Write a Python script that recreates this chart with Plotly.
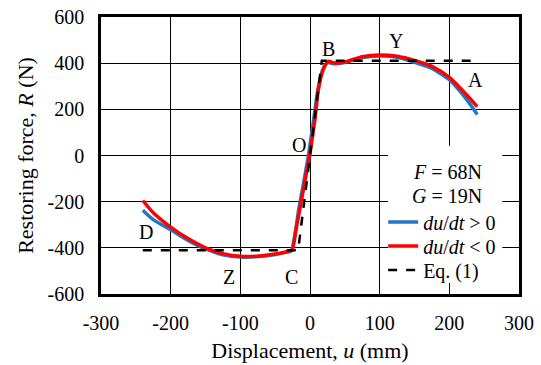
import plotly.graph_objects as go

# ---- data ----
u_blue = [-240, -225, -200, -175, -150, -125, -100, -75, -50, -35, -27, -21, -16, -9, -2, 5, 11, 18, 25, 35, 50, 75, 100, 125, 150, 175, 200, 225, 240]
r_blue = [-237, -278, -322, -368, -405, -430, -440, -438, -429, -419, -413, -330, -230, -115, 5, 150, 280, 370, 402, 397, 403, 424, 431, 426, 404, 377, 328, 242, 178]

u_red = [-240, -225, -200, -175, -150, -125, -100, -75, -50, -35, -26, -20, -14, -7, 0, 7, 12, 19, 26, 35, 50, 75, 100, 125, 150, 175, 200, 225, 240]
r_red = [-195, -248, -310, -360, -400, -425, -437, -436, -427, -418, -411, -320, -222, -107, 10, 154, 285, 372, 408, 401, 405, 428, 435, 430, 412, 386, 338, 262, 212]

u_eq = [-240, -17, 17, 240]
r_eq = [-410, -410, 410, 410]

x_ticks = [-300, -200, -100, 0, 100, 200, 300]
x_ticktext = ["-300", "-200", "-100", "0", "100", "200", "300"]
y_ticks = [-600, -400, -200, 0, 200, 400, 600]
y_ticktext = ["-600", "-400", "-200", "0", "200", "400", "600"]

point_labels = ["D", "Z", "C", "O", "B", "Y", "A"]
label_u = [-235, -116, -26, -16, 26, 123, 238]
label_r = [-331, -527, -527, 45, 461, 496, 327]

params = ["<i>F</i> = 68N", "<i>G</i> = 19N"]
param_r = [-72, -175]

FONT = "Liberation Serif, Times New Roman, serif"

fig = go.Figure()
fig.add_trace(go.Scatter(x=u_blue, y=r_blue, mode="lines", name="<i>du</i>/<i>dt</i> > 0",
                         legend="legend",
                         line=dict(color="#1f77c8", width=3.5, shape="spline", smoothing=0.6)))
fig.add_trace(go.Scatter(x=u_red, y=r_red, mode="lines", name="<i>du</i>/<i>dt</i> &lt; 0",
                         legend="legend2",
                         line=dict(color="#ff0000", width=3.5, shape="spline", smoothing=0.6)))
fig.add_trace(go.Scatter(x=u_eq, y=r_eq, mode="lines", name="Eq. (1)",
                         legend="legend3",
                         line=dict(color="black", width=2.5, dash="dash")))

# white box behind the legend / parameters
fig.add_shape(type="rect", xref="x", yref="y", x0=112, x1=276, y0=-552, y1=42,
              fillcolor="white", line=dict(width=0), layer="between")

for t, yy in zip(params, param_r):
    fig.add_annotation(x=197, y=yy, xref="x", yref="y", text=t, showarrow=False,
                       font=dict(family=FONT, size=20, color="black"))

for t, xx, yy in zip(point_labels, label_u, label_r):
    fig.add_annotation(x=xx, y=yy, xref="x", yref="y", text=t, showarrow=False,
                       font=dict(family=FONT, size=20, color="black"))

axis_common = dict(showline=True, linecolor="black", linewidth=2.5, mirror=True,
                   showgrid=True, gridcolor="black", gridwidth=1, zeroline=False,
                   automargin=False,
                   ticks="", tickfont=dict(family=FONT, size=20, color="black"))

leg_common = dict(xanchor="left", yanchor="middle", bgcolor="rgba(0,0,0,0)",
                  font=dict(family=FONT, size=20, color="black"), itemwidth=30,
                  borderwidth=0)

fig.update_layout(
    width=541, height=365,
    margin=dict(l=101, r=22, t=17, b=71),
    paper_bgcolor="white", plot_bgcolor="white",
    font=dict(family=FONT, color="black"),
    showlegend=True,
    legend=dict(x=0.675, y=0.26, **leg_common),
    legend2=dict(x=0.675, y=0.173, **leg_common),
    legend3=dict(x=0.675, y=0.087, **leg_common),
    xaxis=dict(range=[-300, 300], tickvals=x_ticks, ticktext=x_ticktext,
               ticklabelstandoff=9,
               title=dict(text="Displacement, <i>u</i> (mm)", font=dict(family=FONT, size=22), standoff=10),
               **axis_common),
    yaxis=dict(range=[-600, 600], tickvals=y_ticks, ticktext=y_ticktext,
               ticklabelstandoff=10,
               title=dict(text="Restoring force, <i>R</i> (N)", font=dict(family=FONT, size=22), standoff=8),
               **axis_common),
)

fig.write_html("out.html", post_script="document.body.style.margin='0';",
               config={"displayModeBar": False})
